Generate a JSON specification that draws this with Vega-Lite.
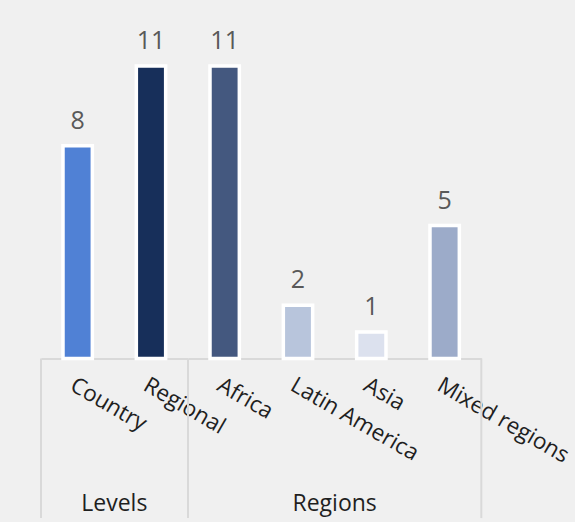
{
  "$schema": "https://vega.github.io/schema/vega-lite/v6.json",
  "background": "#f0f0f0",
  "padding": {"left": 40, "top": 26, "right": 40, "bottom": 20},
  "bounds": "flush",
  "spacing": 0,
  "data": {"values": [
    {"group": "Levels", "category": "Country", "value": 8},
    {"group": "Levels", "category": "Regional", "value": 11},
    {"group": "Regions", "category": "Africa", "value": 11},
    {"group": "Regions", "category": "Latin America", "value": 2},
    {"group": "Regions", "category": "Asia", "value": 1},
    {"group": "Regions", "category": "Mixed regions", "value": 5}
  ]},
  "facet": {
    "column": {
      "field": "group", "type": "nominal", "sort": ["Levels", "Regions"], "title": null,
      "header": {"labelOrient": "bottom", "labelPadding": 134, "labelFont": "Open Sans", "labelFontSize": 23, "labelColor": "#1f1f1f"}
    }
  },
  "spec": {
    "width": {"step": 73.33},
    "height": 332.5,
    "encoding": {
      "x": {
        "field": "category", "type": "nominal", "sort": null,
        "scale": {"paddingInner": 0, "paddingOuter": 0},
        "axis": {
          "title": null, "labelAngle": 30, "labelAlign": "left", "labelBaseline": "top",
          "labelPadding": 15, "labelFont": "Open Sans", "labelFontSize": 22.5, "labelColor": "#1f1f1f",
          "ticks": false, "domainColor": "#d9d9d9", "domainWidth": 2, "grid": false, "labelOverlap": false
        }
      }
    },
    "layer": [
      {
        "mark": {"type": "bar", "width": {"band": 0.4}, "stroke": "white", "strokeWidth": 3.5},
        "encoding": {
          "y": {"field": "value", "type": "quantitative", "scale": {"domain": [0, 12.5], "nice": false}, "axis": null},
          "color": {
            "field": "category", "type": "nominal", "legend": null,
            "scale": {
              "domain": ["Country", "Regional", "Africa", "Latin America", "Asia", "Mixed regions"],
              "range": ["#5081d5", "#172f5a", "#44587f", "#b8c5dc", "#dce1ee", "#9cabc9"]
            }
          }
        }
      },
      {
        "mark": {"type": "text", "dy": -17, "baseline": "alphabetic", "font": "Open Sans", "fontSize": 25, "color": "#595959"},
        "encoding": {
          "y": {"field": "value", "type": "quantitative"},
          "text": {"field": "value", "type": "quantitative"}
        }
      },
      {
        "transform": [{"filter": "datum.category == 'Country' || datum.category == 'Africa'"}],
        "mark": {"type": "rule", "color": "#d9d9d9", "strokeWidth": 2},
        "encoding": {
          "x": {"field": "category", "type": "nominal", "sort": null, "bandPosition": 0},
          "y": {"datum": 0},
          "y2": {"datum": -6}
        }
      },
      {
        "transform": [{"filter": "datum.category == 'Mixed regions'"}],
        "mark": {"type": "rule", "color": "#d9d9d9", "strokeWidth": 2},
        "encoding": {
          "x": {"field": "category", "type": "nominal", "sort": null, "bandPosition": 1},
          "y": {"datum": 0},
          "y2": {"datum": -6}
        }
      }
    ]
  },
  "resolve": {"scale": {"x": "independent"}},
  "config": {"view": {"stroke": null}}
}
